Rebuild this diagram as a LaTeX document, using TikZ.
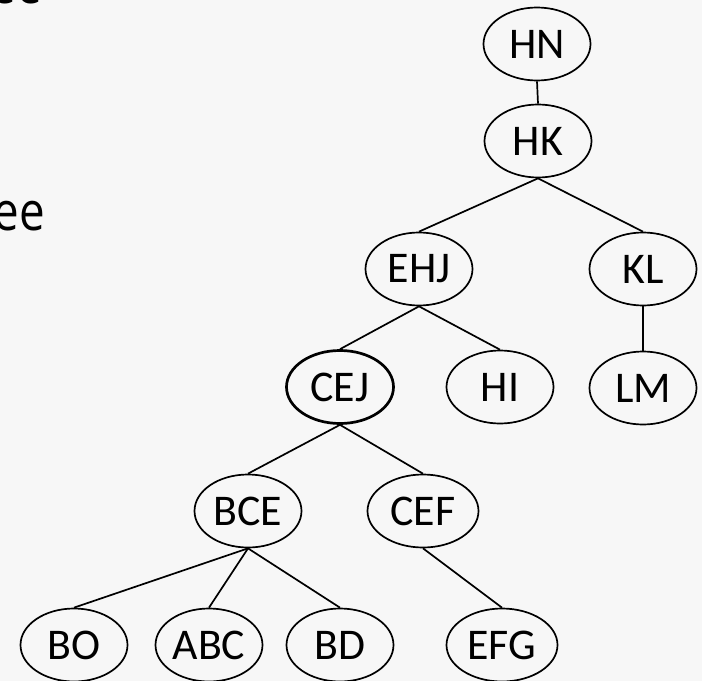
\documentclass[tikz,border=0pt]{standalone}
\usepackage{fontspec}
\setmainfont{Carlito}
\newfontfamily\headfont{Open Sans}
\usetikzlibrary{shapes.geometric}
\definecolor{pagebg}{HTML}{F7F7F7}
\tikzset{
  clique/.style={ellipse, draw=black, line width=1.7bp, fill=pagebg,
    minimum width=107bp, minimum height=73bp, inner sep=0pt,
    font=\fontsize{44}{44}\selectfont},
  wide/.style={minimum width=111bp},
  root/.style={line width=2.7bp},
  link/.style={draw=black, line width=1.7bp},
  heading/.style={anchor=base east, inner sep=0pt,
    font=\headfont\fontsize{54}{54}\selectfont}
}
\begin{document}
\begin{tikzpicture}[x=1bp, y=-1bp]
  \fill[pagebg] (0,0) rectangle (702,681);
  \useasboundingbox (0,0) rectangle (702,681);

  % heading fragments at the left edge
  \node[heading] (h1) at (42,4) {\scalebox{0.85}[1]{ee}};
  \node[heading] (h2) at (45,230) {\scalebox{0.85}[1]{ee}};

  % cliques of the junction tree
  \node[clique] (HN)  at (537,44)  {HN};
  \node[clique] (HK)  at (538,141) {HK};
  \node[clique] (EHJ) at (419,269) {EHJ};
  \node[clique] (KL)  at (643,269) {KL};
  \node[clique,root] (CEJ) at (340,387) {CEJ};
  \node[clique] (HI)  at (500,387) {HI};
  \node[clique] (LM)  at (643,388) {LM};
  \node[clique] (BCE) at (248,511) {BCE};
  \node[clique,wide] (CEF) at (423,511) {CEF};
  \node[clique] (BO)  at (74,645)  {BO};
  \node[clique] (ABC) at (209,645) {ABC};
  \node[clique] (BD)  at (340,645) {BD};
  \node[clique,wide] (EFG) at (502,645) {EFG};

  % tree edges, bottom of parent to top of child
  \draw[link] (HN.south)  -- (HK.north);
  \draw[link] (HK.south)  -- (EHJ.north);
  \draw[link] (HK.south)  -- (KL.north);
  \draw[link] (KL.south)  -- (LM.north);
  \draw[link] (EHJ.south) -- (CEJ.north);
  \draw[link] (EHJ.south) -- (HI.north);
  \draw[link] (CEJ.south) -- (BCE.north);
  \draw[link] (CEJ.south) -- (CEF.north);
  \draw[link] (BCE.south) -- (BO.north);
  \draw[link] (BCE.south) -- (ABC.north);
  \draw[link] (BCE.south) -- (BD.north);
  \draw[link] (CEF.south) -- (EFG.north);
\end{tikzpicture}
\end{document}
